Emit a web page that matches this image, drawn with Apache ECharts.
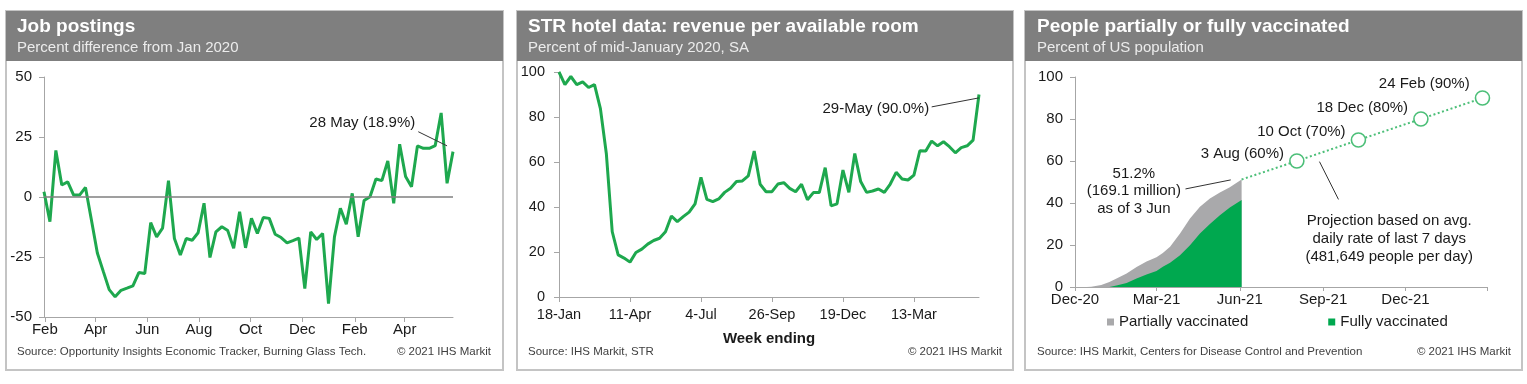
<!DOCTYPE html>
<html><head><meta charset="utf-8">
<script src="https://cdn.jsdelivr.net/npm/echarts@6/dist/echarts.min.js"></script>
<style>html,body{margin:0;padding:0;background:#fff}#c{width:1527px;height:384px}</style>
</head><body><div id="c"></div><script>
// ---------- Panel 1: Job postings ----------
const jobDates = ['2020-01-31','2020-02-07','2020-02-14','2020-02-21','2020-02-28','2020-03-06','2020-03-13','2020-03-20','2020-03-27','2020-04-03','2020-04-10','2020-04-17','2020-04-24','2020-05-01','2020-05-08','2020-05-15','2020-05-22','2020-05-29','2020-06-05','2020-06-12','2020-06-19','2020-06-26','2020-07-03','2020-07-10','2020-07-17','2020-07-24','2020-07-31','2020-08-07','2020-08-14','2020-08-21','2020-08-28','2020-09-04','2020-09-11','2020-09-18','2020-09-25','2020-10-02','2020-10-09','2020-10-16','2020-10-23','2020-10-30','2020-11-06','2020-11-13','2020-11-20','2020-11-27','2020-12-04','2020-12-11','2020-12-18','2020-12-25','2021-01-01','2021-01-08','2021-01-15','2021-01-22','2021-01-29','2021-02-05','2021-02-12','2021-02-19','2021-02-26','2021-03-05','2021-03-12','2021-03-19','2021-03-26','2021-04-02','2021-04-09','2021-04-16','2021-04-23','2021-04-30','2021-05-07','2021-05-14','2021-05-21','2021-05-28'];
const jobValues = [2.2,-10.3,19.4,5,6.3,0.8,0.8,4,-9.6,-23.3,-31,-38.6,-41.6,-38.9,-38,-37,-31.5,-31.9,-10.7,-16.6,-13,6.8,-17.3,-24.2,-17.3,-18,-14.9,-2.6,-25.2,-14.5,-12.4,-14,-21.4,-6.1,-21.2,-8.9,-15.2,-8.5,-8.9,-15.5,-16.9,-19.1,-18.2,-17.1,-38.2,-14.5,-17.7,-15.2,-44.4,-16.6,-4.7,-11.3,1.5,-16.6,-1.5,0.1,7.5,6.8,15,-2.6,22,8.5,4.3,21.3,20.3,20.3,21.4,35,5.7,18.9];
const jobTickDates = ['2020-02-01','2020-04-01','2020-06-01','2020-08-01','2020-10-01','2020-12-01','2021-02-01','2021-04-01'];
const jobTickLabels = ['Feb','Apr','Jun','Aug','Oct','Dec','Feb','Apr'];

// ---------- Panel 2: STR hotel RevPAR ----------
const strWeeks = ['18-Jan','25-Jan','1-Feb','8-Feb','15-Feb','22-Feb','29-Feb','7-Mar','14-Mar','21-Mar','28-Mar','4-Apr','11-Apr','18-Apr','25-Apr','2-May','9-May','16-May','23-May','30-May','6-Jun','13-Jun','20-Jun','27-Jun','4-Jul','11-Jul','18-Jul','25-Jul','1-Aug','8-Aug','15-Aug','22-Aug','29-Aug','5-Sep','12-Sep','19-Sep','26-Sep','3-Oct','10-Oct','17-Oct','24-Oct','31-Oct','7-Nov','14-Nov','21-Nov','28-Nov','5-Dec','12-Dec','19-Dec','26-Dec','2-Jan','9-Jan','16-Jan','23-Jan','30-Jan','6-Feb','13-Feb','20-Feb','27-Feb','6-Mar','13-Mar','20-Mar','27-Mar','3-Apr','10-Apr','17-Apr','24-Apr','1-May','8-May','15-May','22-May','29-May'];
const strValues = [100,94.4,98,94.4,95.6,93.1,94.4,83.7,63.8,29,18.7,17.3,15.5,19.8,21.3,23.5,25.1,26.1,29,36,33.5,35.7,37.7,41.4,53.2,43.4,42.4,43.6,46.5,48.3,51.3,51.6,53.8,64.9,50.1,46.8,46.8,50.2,50.8,48.3,46.8,50.1,43.2,46.4,46.4,57.5,40.5,41.4,56.4,46.5,63.8,51.3,46.5,47.1,48,46.5,50.2,55.4,52.4,52,54.2,65,64.9,69.3,67.2,69,66.8,64.1,66.4,67.2,69.7,90];

// ---------- Panel 3: Vaccinations ----------
const vaxDates = ['2020-12-14','2020-12-19','2020-12-30','2021-01-08','2021-01-17','2021-01-27','2021-02-07','2021-02-18','2021-03-01','2021-03-08','2021-03-16','2021-03-27','2021-04-07','2021-04-18','2021-04-29','2021-05-10','2021-05-21','2021-06-03'];
const vaxAtLeastOne = [0,0.1,1.0,2.4,4.3,6.4,9.5,12.2,14.2,16.2,19.2,25.5,32.6,38.2,42.2,45,47.5,51.2];
const vaxFully = [0,0,0,0,0.8,1.9,4.0,6.0,7.6,9.6,11.5,15.1,19.9,25.5,30,34.2,37.9,41.4];
const projDates = ['2021-06-03','2021-08-03','2021-10-10','2021-12-18','2022-02-24'];
const projValues = [51.2,60,70,80,90];
const projLabels = ['','3 Aug (60%)','10 Oct (70%)','18 Dec (80%)','24 Feb (90%)'];
const vaxTickDates = ['2020-12-01','2021-03-01','2021-06-01','2021-09-01','2021-12-01','2022-03-01'];
const vaxTickLabels = ['Dec-20','Mar-21','Jun-21','Sep-21','Dec-21',''];

// ---------- helpers ----------
const ts = s => { const p = s.split('-').map(Number); return Date.UTC(p[0], p[1]-1, p[2]); };
const FONT = '"Liberation Sans", Arial, Helvetica, sans-serif';
const TXT = '#1a1a1a';
const AX = '#a6a6a6';
const GREEN = '#1ea84e';
const tickFmt = (dates, labels) => { const t = dates.map(ts); return v => { const i = t.findIndex(x => Math.abs(x - v) < 43200000); return i >= 0 ? labels[i] : ''; }; };
const pair = (d, v) => d.map((x, i) => [ts(x), v[i]]);

const chart = echarts.init(document.getElementById('c'), null, {renderer: 'canvas'});

const axisCommon = {
  axisLine: {show: true, onZero: false, lineStyle: {color: AX, width: 1}},
  axisTick: {show: true, length: 5, lineStyle: {color: AX}},
  splitLine: {show: false}
};
const lbl = (size, margin) => ({color: TXT, fontSize: size, fontFamily: FONT, margin: margin});

const panels = [[6, 497], [517, 496], [1025, 497]];
const graphics = [];
panels.forEach(([x, w]) => {
  graphics.push({type: 'rect', shape: {x: x, y: 11, width: w, height: 359}, style: {fill: 'none', stroke: '#c4c4c4', lineWidth: 2}, silent: true});
  graphics.push({type: 'rect', shape: {x: x, y: 11, width: w, height: 50}, style: {fill: '#7f7f7f'}, silent: true});
});
const titles = [
  [17, 'Job postings', 'Percent difference from Jan 2020', 'Source: Opportunity Insights Economic Tracker, Burning Glass Tech.', 491],
  [528, 'STR hotel data: revenue per available room', 'Percent of mid-January 2020, SA', 'Source: IHS Markit, STR', 1002],
  [1037, 'People partially or fully vaccinated', 'Percent of US population', 'Source: IHS Markit, Centers for Disease Control and Prevention', 1511]
];
titles.forEach(([x, t, s, src, rx]) => {
  graphics.push({type: 'text', x: x, y: 27, style: {text: t, fill: '#fff', fontSize: 19, fontWeight: 'bold', fontFamily: FONT, verticalAlign: 'middle', align: 'left'}});
  graphics.push({type: 'text', x: x, y: 47.5, style: {text: s, fill: '#ececec', fontSize: 15, fontFamily: FONT, verticalAlign: 'middle', align: 'left'}});
  graphics.push({type: 'text', x: x, y: 352, style: {text: src, fill: '#404040', fontSize: 11.5, fontFamily: FONT, verticalAlign: 'middle', align: 'left'}});
  graphics.push({type: 'text', x: rx, y: 352, style: {text: '\u00a9 2021 IHS Markit', fill: '#404040', fontSize: 11.5, fontFamily: FONT, verticalAlign: 'middle', align: 'right'}});
});

const annLabel = {color: TXT, fontSize: 15, fontFamily: FONT};
const hidden = {color: 'rgba(0,0,0,0)'};

const option = {
  animation: false,
  backgroundColor: '#fff',
  textStyle: {fontFamily: FONT},
  graphic: graphics,
  grid: [
    {left: 44, top: 77, width: 409, height: 240},
    {left: 559, top: 72, width: 420, height: 225},
    {left: 1075, top: 77, width: 412, height: 210}
  ],
  legend: {
    data: ['Partially vaccinated', 'Fully vaccinated'],
    left: 1107, top: 314, padding: 0,
    icon: 'rect', itemWidth: 7, itemHeight: 7, itemGap: 80,
    textStyle: {color: TXT, fontSize: 15, fontFamily: FONT, lineHeight: 16},
    selectedMode: false
  },
  xAxis: [
    Object.assign({}, axisCommon, {
      type: 'value', gridIndex: 0, min: ts('2020-01-31'), max: ts('2021-05-28'),
      axisTick: {show: true, length: 5, lineStyle: {color: AX}, customValues: jobTickDates.map(ts)},
      axisLabel: Object.assign(lbl(15, 5), {customValues: jobTickDates.map(ts), formatter: tickFmt(jobTickDates, jobTickLabels), hideOverlap: false})
    }),
    Object.assign({}, axisCommon, {
      type: 'category', gridIndex: 1, data: strWeeks, boundaryGap: false,
      axisTick: {show: true, length: 5, interval: 11, lineStyle: {color: AX}},
      axisLabel: Object.assign(lbl(14.5, 10), {interval: 11}),
      name: 'Week ending', nameLocation: 'middle', nameGap: 34,
      nameTextStyle: {color: TXT, fontSize: 15, fontWeight: 'bold', fontFamily: FONT}
    }),
    Object.assign({}, axisCommon, {
      type: 'value', gridIndex: 2, min: ts('2020-12-01'), max: ts('2022-03-01'),
      axisTick: {show: true, length: 4, lineStyle: {color: AX}, customValues: vaxTickDates.map(ts)},
      axisLabel: Object.assign(lbl(15, 5), {customValues: vaxTickDates.slice(0, 5).map(ts), formatter: tickFmt(vaxTickDates, vaxTickLabels), hideOverlap: false})
    })
  ],
  yAxis: [
    Object.assign({}, axisCommon, {type: 'value', gridIndex: 0, min: -50, max: 50, interval: 25, axisLabel: lbl(15, 12)}),
    Object.assign({}, axisCommon, {type: 'value', gridIndex: 1, min: 0, max: 100, interval: 20, axisLabel: lbl(14.5, 14)}),
    Object.assign({}, axisCommon, {type: 'value', gridIndex: 2, min: 0, max: 100, interval: 20, axisLabel: lbl(15, 12)})
  ],
  series: [
    {
      type: 'line', xAxisIndex: 0, yAxisIndex: 0, data: pair(jobDates, jobValues),
      symbol: 'none', lineStyle: {color: GREEN, width: 3}, itemStyle: {color: GREEN}, z: 3,
      markLine: {
        silent: true, symbol: ['none', 'none'], label: {show: false},
        lineStyle: {color: '#333', width: 1, type: 'solid'},
        data: [
          {yAxis: 0, lineStyle: {color: '#7f7f7f', width: 1.5, type: 'solid'}},
          [{coord: [ts('2021-04-17'), 27.2]}, {coord: [ts('2021-05-21'), 21.3]}]
        ]
      },
      markPoint: {
        silent: true, symbol: 'circle', symbolSize: 1, itemStyle: hidden,
        data: [{coord: [ts('2021-04-14'), 30.9], label: Object.assign({show: true, formatter: '28 May (18.9%)', position: 'left', distance: 0}, annLabel)}]
      }
    },
    {
      type: 'line', xAxisIndex: 1, yAxisIndex: 1, data: strValues,
      symbol: 'none', lineStyle: {color: GREEN, width: 3}, itemStyle: {color: GREEN},
      markLine: {
        silent: true, symbol: ['none', 'none'], label: {show: false},
        lineStyle: {color: '#333', width: 1, type: 'solid'},
        data: [[{coord: [63, 84.5]}, {coord: [71, 88.5]}]]
      },
      markPoint: {
        silent: true, symbol: 'circle', symbolSize: 1, itemStyle: hidden,
        data: [{coord: [63, 83.5], label: Object.assign({show: true, formatter: '29-May (90.0%)', position: 'left', distance: 2}, annLabel)}]
      }
    },
    {
      name: 'Partially vaccinated', type: 'line', xAxisIndex: 2, yAxisIndex: 2,
      data: pair(vaxDates, vaxAtLeastOne), symbol: 'none', color: '#a9a9ab',
      lineStyle: {width: 0}, areaStyle: {color: '#a9a9ab', opacity: 1},
      markLine: {
        silent: true, symbol: ['none', 'none'], label: {show: false},
        lineStyle: {color: '#333', width: 1, type: 'solid'},
        data: [
          [{coord: [ts('2021-04-02'), 46.7]}, {coord: [ts('2021-05-22'), 51]}],
          [{coord: [ts('2021-08-28'), 59.7]}, {coord: [ts('2021-09-18'), 41.7]}]
        ]
      },
      markPoint: {
        silent: true, symbol: 'circle', symbolSize: 1, itemStyle: hidden,
        data: [
          {coord: [ts('2021-02-04'), 45.7], label: Object.assign({show: true, formatter: '51.2%\n(169.1 million)\nas of 3 Jun', position: 'inside', align: 'center', verticalAlign: 'middle', lineHeight: 17.5}, annLabel)},
          {coord: [ts('2021-11-13'), 22.8], label: Object.assign({show: true, formatter: 'Projection based on avg.\ndaily rate of last 7 days\n(481,649 people per day)', position: 'inside', align: 'center', verticalAlign: 'middle', lineHeight: 18}, annLabel)}
        ]
      }
    },
    {
      name: 'Fully vaccinated', type: 'line', xAxisIndex: 2, yAxisIndex: 2,
      data: pair(vaxDates, vaxFully), symbol: 'none', color: '#00a84f',
      lineStyle: {width: 0}, areaStyle: {color: '#00a84f', opacity: 1}
    },
    {
      type: 'line', xAxisIndex: 2, yAxisIndex: 2,
      data: projDates.map((d, i) => ({
        value: [ts(d), projValues[i]],
        symbol: i === 0 ? 'none' : 'circle',
        label: {show: i > 0, formatter: projLabels[i], position: 'left', distance: 5, offset: [0, [0, -7, -8, -11, -14][i]], color: TXT, fontSize: 15, fontFamily: FONT}
      })),
      symbolSize: 14, showSymbol: true,
      lineStyle: {color: '#4cbf78', width: 2, type: [2, 2.5]},
      itemStyle: {color: '#fff', borderColor: '#4cbf78', borderWidth: 1.6},
      z: 4
    }
  ]
};
chart.setOption(option);
</script></body></html>
